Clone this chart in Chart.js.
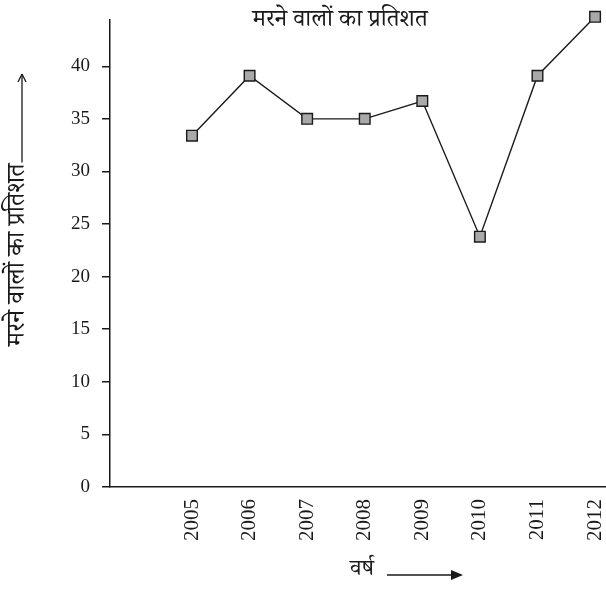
<!DOCTYPE html>
<html><head><meta charset="utf-8">
<script src="https://cdn.jsdelivr.net/npm/chart.js@4.4.0/dist/chart.umd.min.js"></script>
<style>html,body{margin:0;padding:0;background:#fff;}#wrap{width:606px;height:589px;}</style>
</head><body><div id="wrap"><canvas id="c" width="606" height="589"></canvas></div>
<script>
const years = [2005, 2006, 2007, 2008, 2009, 2010, 2011, 2012];
const deathPercent = [33.4, 39.1, 35.0, 35.0, 36.7, 23.8, 39.1, 44.7];
const yTicks = [0, 5, 10, 15, 20, 25, 30, 35, 40];
const chartTitle = 'मरने वालों का प्रतिशत';
const yAxisTitle = 'मरने वालों का प्रतिशत';
const xAxisTitle = 'वर्ष';

const hindiFont = '"Noto Serif Devanagari","Noto Sans Devanagari","Lohit Devanagari","Liberation Serif",serif';
const ink = '#1a1a1a';

const textPlugin = {
  id: 'texts',
  afterDraw(chart) {
    const ctx = chart.ctx;
    ctx.save();
    ctx.fillStyle = ink; ctx.strokeStyle = ink; ctx.lineWidth = 1.3;
    // title
    ctx.font = '24px ' + hindiFont;
    ctx.textAlign = 'center'; ctx.textBaseline = 'middle';
    ctx.fillText(chartTitle, 340, 24);
    // y axis title rotated
    ctx.save();
    ctx.translate(22, 346);
    ctx.rotate(-Math.PI / 2);
    ctx.textAlign = 'left';
    ctx.font = '25px ' + hindiFont;
    ctx.fillText(yAxisTitle, 0, 0);
    const w = ctx.measureText(yAxisTitle).width;
    const x0 = w + 1, x1 = 272;
    ctx.beginPath(); ctx.moveTo(x0, 0); ctx.lineTo(x1, 0); ctx.stroke();
    ctx.beginPath(); ctx.moveTo(x1, 0); ctx.lineTo(x1 - 8, -4); ctx.moveTo(x1, 0); ctx.lineTo(x1 - 8, 4); ctx.stroke();
    ctx.restore();
    // x axis title
    ctx.font = '23px ' + hindiFont;
    ctx.textAlign = 'center';
    ctx.fillText(xAxisTitle, 362, 573);
    ctx.beginPath(); ctx.moveTo(387, 575); ctx.lineTo(456, 575); ctx.stroke();
    ctx.beginPath(); ctx.moveTo(463, 575); ctx.lineTo(451, 570); ctx.lineTo(451, 580); ctx.closePath(); ctx.fill();
    ctx.restore();
  }
};

new Chart(document.getElementById('c'), {
  type: 'line',
  data: {
    datasets: [{
      data: years.map((y, i) => ({ x: y, y: deathPercent[i] })),
      borderColor: ink,
      borderWidth: 1.4,
      pointStyle: 'rect',
      pointRadius: 7.5,
      pointBackgroundColor: '#a9a9a9',
      pointBorderColor: ink,
      pointBorderWidth: 1.4,
      tension: 0,
      clip: false
    }]
  },
  options: {
    responsive: false,
    animation: false,
    layout: { autoPadding: false, padding: { top: 20, right: 0, left: 0, bottom: 0 } },
    plugins: { legend: { display: false }, tooltip: { enabled: false } },
    scales: {
      x: {
        type: 'linear',
        min: 2003.576,
        max: 2012.19,
        afterBuildTicks: s => { s.ticks = years.map(v => ({ value: v })); },
        afterFit: s => { s.height = 102; s.paddingRight = 0; s.paddingLeft = 0; },
        grid: { display: false },
        border: { display: true, color: ink, width: 1.5 },
        ticks: {
          minRotation: 90, maxRotation: 90, autoSkip: false, padding: 4,
          color: ink,
          font: { family: '"Liberation Serif",serif', size: 21 },
          callback: v => String(v)
        }
      },
      y: {
        type: 'linear',
        min: 0,
        max: 44.4,
        afterBuildTicks: s => { s.ticks = yTicks.map(v => ({ value: v })); },
        afterFit: s => { s.width = 110; s.paddingTop = 0; s.paddingBottom = 0; },
        grid: { display: true, drawOnChartArea: false, drawTicks: true, tickLength: 8, color: ink, lineWidth: 1.5 },
        border: { display: true, color: ink, width: 1.5 },
        ticks: {
          padding: 12,
          color: ink,
          font: { family: '"Liberation Serif",serif', size: 19 },
          callback: v => String(v)
        }
      }
    }
  },
  plugins: [textPlugin]
});
</script>
</body></html>
